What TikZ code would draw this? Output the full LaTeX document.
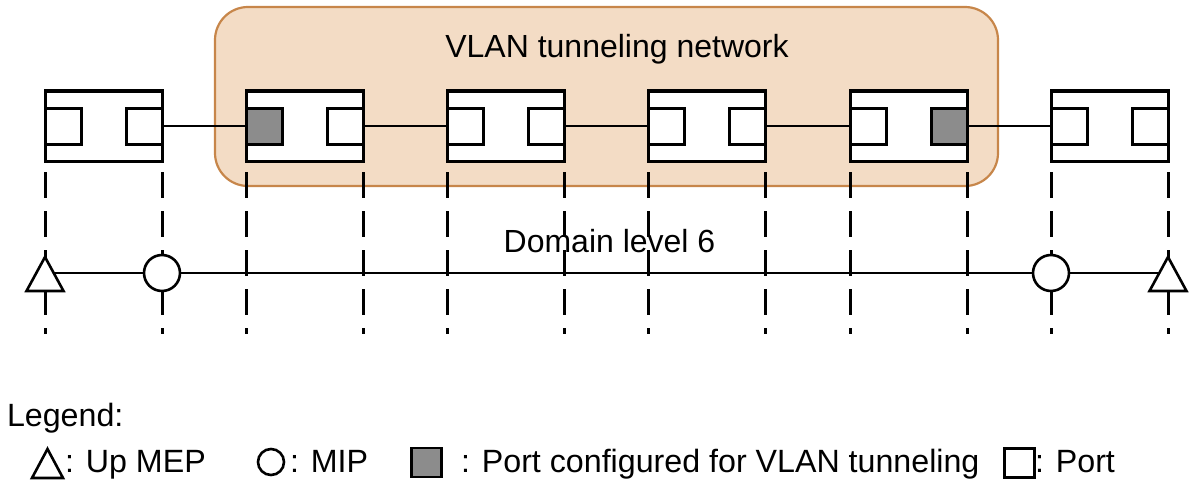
\documentclass[tikz,border=0pt]{standalone}
\usepackage{fontspec}
\setmainfont{Liberation Sans}
\definecolor{netfill}{RGB}{243,220,197}
\definecolor{netdraw}{RGB}{199,134,74}
\definecolor{portgray}{RGB}{140,140,140}
\begin{document}
\begin{tikzpicture}[x=1pt,y=-1pt,
  lbl/.style={font=\fontsize{32}{38}\selectfont, inner sep=0pt, outer sep=0pt},
  leg/.style={font=\fontsize{32.2}{38}\selectfont, inner sep=0pt, outer sep=0pt},
  swbox/.style={draw, line width=3pt, fill=white, minimum width=117pt, minimum height=70pt, inner sep=0pt, outer sep=0pt, anchor=north west},
  portbox/.style={draw, line width=3pt, minimum width=36pt, minimum height=36pt, inner sep=0pt, outer sep=0pt},
  link/.style={line width=2.4pt},
  vline/.style={line width=3pt, dash pattern=on 26pt off 13pt},
  mip/.style={circle, draw, fill=white, line width=2.6pt, minimum size=36pt, inner sep=0pt, outer sep=0pt},
  mepshape/.style={draw, fill=white, line width=2.6pt},
  legshape/.style={draw, line width=2.6pt, inner sep=0pt, outer sep=0pt}]
\useasboundingbox (0,0) rectangle (1197,495);

% VLAN tunneling network area
\node[draw=netdraw, fill=netfill, line width=2.2pt, rounded corners=33pt,
      minimum width=783pt, minimum height=179pt, inner sep=0pt, outer sep=0pt,
      anchor=north west] (net) at (215,7) {};
\node[lbl, anchor=base] (nettitle) at (617,58) {VLAN tunneling network};

% switches with ports
\foreach \i/\x/\lf/\rf in {1/45/white/white, 2/246/portgray/white, 3/447/white/white,
                           4/648/white/white, 5/850/white/portgray, 6/1051/white/white} {
  \node[swbox] (b\i) at (\x,91) {};
  \node[portbox, fill=\lf, anchor=north west] (l\i) at (\x,108) {};
  \node[portbox, fill=\rf, anchor=north east] (r\i) at (\x+117,108) {};
}
\foreach \i/\j in {1/2,2/3,3/4,4/5,5/6} {
  \draw[link] (r\i.east) -- (l\j.west);
}

% domain line
\coordinate (mepL) at (45,273);
\coordinate (mepR) at (1168,273);
\draw[link] (mepL) -- (mepR);
\node[lbl, anchor=base] (dom) at (609.5,252) {Domain level 6};

% dashed projections
\coordinate (vtop) at (0,172);
\coordinate (vbot) at (0,334);
\foreach \i in {1,...,6} {
  \draw[vline] (b\i.south west |- vtop) -- (b\i.south west |- vbot);
  \draw[vline] (b\i.south east |- vtop) -- (b\i.south east |- vbot);
}

% MEPs and MIPs
\filldraw[mepshape] (26.5,291) -- (63.5,291) -- (45,257) -- cycle;
\filldraw[mepshape] (1149.5,291) -- (1186.5,291) -- (1168,257) -- cycle;
\node[mip] (mipL) at (162,273) {};
\node[mip] (mipR) at (1051,273) {};

% legend
\node[leg, anchor=base west] (legtitle) at (7,426) {Legend:};
\draw[legshape, line join=miter] (32,478) -- (63,478) -- (47.5,449) -- cycle;
\node[leg, anchor=base west] (legmep) at (65,472) {: Up MEP};
\draw[legshape] (271,462) circle [radius=13];
\node[leg, anchor=base west] (legmip) at (290,472) {: MIP};
\node[legshape, fill=portgray, minimum width=30pt, minimum height=29pt] (leggray) at (426.5,462.5) {};
\node[leg, anchor=base west] (legvlan) at (461,472) {: Port configured for VLAN tunneling};
\node[legshape, fill=white, minimum width=30pt, minimum height=29pt] (legport) at (1019.5,463) {};
\node[leg, anchor=base west] (legporttxt) at (1035,472) {: Port};
\end{tikzpicture}
\end{document}
